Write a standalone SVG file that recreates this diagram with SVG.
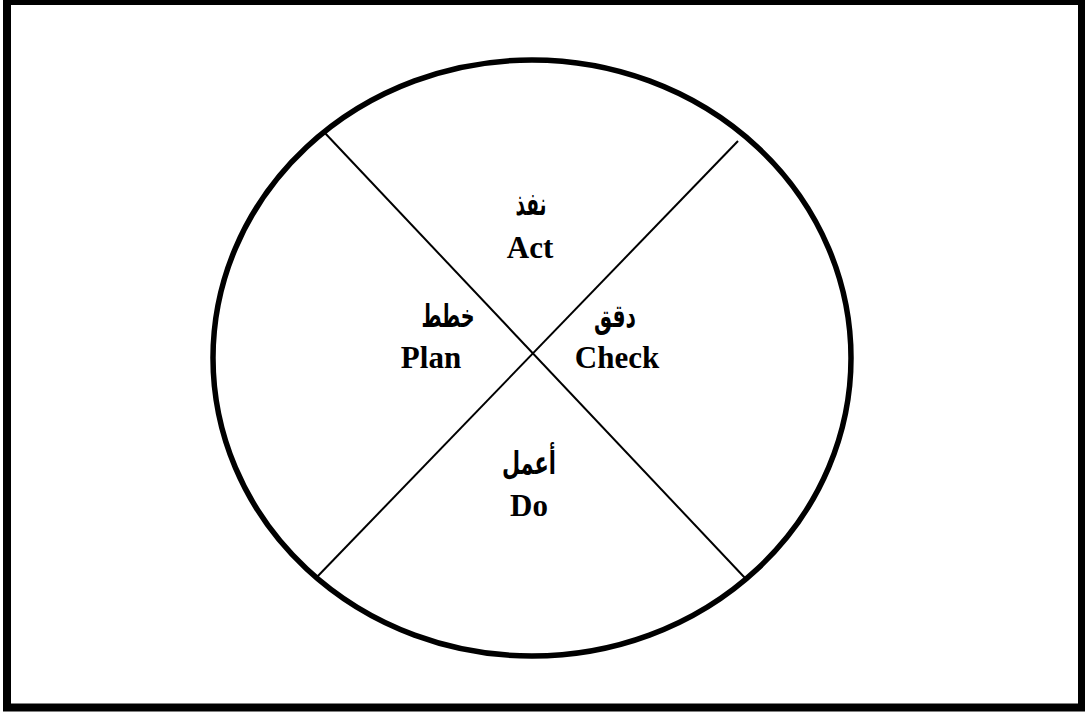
<svg xmlns="http://www.w3.org/2000/svg" width="1085" height="713" viewBox="0 0 1085 713">
<style>
.en{font-family:"Liberation Serif","Times New Roman",serif;font-weight:bold;font-size:31px;fill:#000;text-anchor:middle}
.ar{font-family:"DejaVu Sans",sans-serif;font-weight:bold;font-size:32px;fill:#000;text-anchor:middle}
</style>
<rect x="0" y="0" width="1085" height="713" fill="#fff"/>
<rect id="frame" x="7" y="1" width="1075" height="706.5" fill="none" stroke="#000" stroke-width="8"/>
<g id="cycle">
<ellipse cx="532" cy="358" rx="319" ry="298" fill="none" stroke="#000" stroke-width="5.5"/>
</g>
<g id="connectors" stroke="#000" stroke-width="2">
<line x1="324" y1="132" x2="745" y2="578"/>
<line x1="738" y1="141" x2="316" y2="578"/>
</g>
<g id="act"><text class="ar" x="531" y="215" textLength="31" lengthAdjust="spacingAndGlyphs">نفذ</text><text class="en" x="530" y="258">Act</text></g>
<g id="plan"><text class="ar" x="448" y="327" textLength="53" lengthAdjust="spacingAndGlyphs">خطط</text><text class="en" x="431" y="368">Plan</text></g>
<g id="check"><text class="ar" x="615" y="327" textLength="42" lengthAdjust="spacingAndGlyphs">دقق</text><text class="en" x="617" y="368">Check</text></g>
<g id="do"><text class="ar" x="529" y="474" textLength="54" lengthAdjust="spacingAndGlyphs">أعمل</text><text class="en" x="529" y="516">Do</text></g>
</svg>
